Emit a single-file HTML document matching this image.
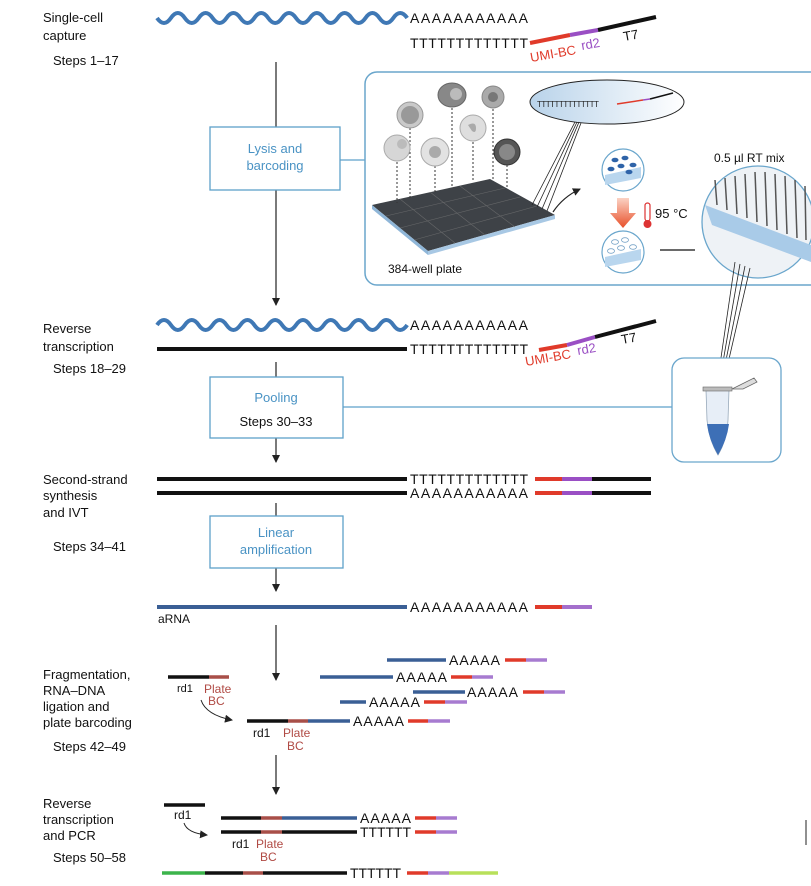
<!DOCTYPE html>
<html><head><meta charset="utf-8"><style>
html,body{margin:0;padding:0;background:#fff;}
svg{display:block;font-family:"Liberation Sans",sans-serif;}
</style></head><body>
<svg width="811" height="886" viewBox="0 0 811 886" xmlns="http://www.w3.org/2000/svg">
<defs>
<marker id="ar" markerWidth="8" markerHeight="8" refX="7" refY="4" orient="auto" markerUnits="userSpaceOnUse"><path d="M0,0 L8,4 L0,8 z" fill="#222"/></marker>
<linearGradient id="eg" x1="0" x2="1"><stop offset="0" stop-color="#b9d3ea"/><stop offset="1" stop-color="#ffffff"/></linearGradient>
<linearGradient id="og" x1="0" y1="0" x2="0" y2="1"><stop offset="0" stop-color="#fbd2c4"/><stop offset="1" stop-color="#e8502a"/></linearGradient>
</defs>

<g font-size="13" fill="#111">
<text x="43" y="22">Single-cell</text><text x="43" y="40">capture</text><text x="53" y="65">Steps 1–17</text>
<text x="43" y="333">Reverse</text><text x="43" y="351">transcription</text><text x="53" y="373">Steps 18–29</text>
<text x="43" y="484">Second-strand</text><text x="43" y="500">synthesis</text><text x="43" y="517">and IVT</text><text x="53" y="551">Steps 34–41</text>
<text x="43" y="679">Fragmentation,</text><text x="43" y="695">RNA–DNA</text><text x="43" y="711">ligation and</text><text x="43" y="727">plate barcoding</text><text x="53" y="751">Steps 42–49</text>
<text x="43" y="808">Reverse</text><text x="43" y="824">transcription</text><text x="43" y="840">and PCR</text><text x="53" y="862">Steps 50–58</text>
</g>

<path d="M157,18 q7,10 13.9,0 t13.9,0 t13.9,0 t13.9,0 t13.9,0 t13.9,0 t13.9,0 t13.9,0 t13.9,0 t13.9,0 t13.9,0 t13.9,0 t13.9,0 t13.9,0 t13.9,0 t13.9,0 t13.9,0 t13.9,0" fill="none" stroke="#3f78b5" stroke-width="4"/>
<g font-size="14" fill="#111">
<text x="410" y="23" textLength="118" lengthAdjust="spacing">AAAAAAAAAAA</text>
<text x="410" y="48" textLength="118" lengthAdjust="spacing">TTTTTTTTTTTTT</text>
</g>
<line x1="530" y1="43" x2="570" y2="35" stroke="#e03a2a" stroke-width="4"/>
<line x1="570" y1="35" x2="598" y2="30" stroke="#9a4fc4" stroke-width="4"/>
<line x1="598" y1="30" x2="656" y2="17" stroke="#111" stroke-width="4"/>
<text x="531" y="62" font-size="13" fill="#e03a2a" transform="rotate(-10 531 62)">UMI-BC</text>
<text x="582" y="50" font-size="13" fill="#9a4fc4" transform="rotate(-10 582 50)">rd2</text>
<text x="624" y="41" font-size="13" fill="#111" transform="rotate(-10 624 41)">T7</text>

<g stroke="#222" stroke-width="1.2">
<line x1="276" y1="62" x2="276" y2="127"/>
<line x1="276" y1="190" x2="276" y2="305" marker-end="url(#ar)"/>
<line x1="276" y1="362" x2="276" y2="377"/>
<line x1="276" y1="438" x2="276" y2="462" marker-end="url(#ar)"/>
<line x1="276" y1="503" x2="276" y2="516"/>
<line x1="276" y1="568" x2="276" y2="591" marker-end="url(#ar)"/>
<line x1="276" y1="625" x2="276" y2="680" marker-end="url(#ar)"/>
<line x1="276" y1="755" x2="276" y2="794" marker-end="url(#ar)"/>
</g>

<g fill="#fff" stroke="#5ea0c9" stroke-width="1.3">
<rect x="210" y="127" width="130" height="63"/>
<rect x="210" y="377" width="133" height="61"/>
<rect x="210" y="516" width="133" height="52"/>
</g>
<g font-size="13" text-anchor="middle" fill="#4a93c4">
<text x="275" y="153">Lysis and</text><text x="275" y="170">barcoding</text>
<text x="276" y="402">Pooling</text>
<text x="276" y="537">Linear</text><text x="276" y="554">amplification</text>
</g>
<text x="276" y="426" font-size="13" text-anchor="middle" fill="#111">Steps 30–33</text>
<line x1="340" y1="160" x2="365" y2="160" stroke="#5ea0c9" stroke-width="1.3"/>
<line x1="343" y1="407" x2="672" y2="407" stroke="#5ea0c9" stroke-width="1.3"/>

<rect x="365" y="72" width="460" height="213" rx="12" fill="#fff" stroke="#6aa6cc" stroke-width="1.5"/>
<polygon points="372,205 490,179 555,215 428,251" fill="#3e4247"/>
<polygon points="372,205 428,251 428,255 372,209" fill="#8fb6d8"/>
<polygon points="428,251 555,215 555,219 428,255" fill="#a8c8e4"/>
<g stroke="#777" stroke-width="0.6" opacity="0.7">
<line x1="386" y1="216" x2="505" y2="188"/><line x1="400" y1="228" x2="520" y2="197"/><line x1="414" y1="240" x2="537" y2="206"/>
<line x1="400" y1="199" x2="455" y2="243"/><line x1="430" y1="192" x2="485" y2="235"/><line x1="460" y1="186" x2="515" y2="227"/>
</g>
<g stroke="#333" stroke-width="1" stroke-dasharray="2,2">
<line x1="397" y1="162" x2="397" y2="203"/><line x1="410" y1="128" x2="410" y2="200"/><line x1="435" y1="166" x2="435" y2="192"/>
<line x1="452" y1="108" x2="452" y2="186"/><line x1="473" y1="142" x2="473" y2="182"/><line x1="493" y1="109" x2="493" y2="180"/><line x1="507" y1="165" x2="507" y2="188"/>
</g>
<circle cx="397" cy="148" r="13" fill="#d6d6d6" stroke="#aaa"/><circle cx="402" cy="144" r="5" fill="#bbb"/>
<circle cx="410" cy="115" r="13" fill="#c9c9c9" stroke="#999"/><circle cx="410" cy="115" r="9" fill="#999"/>
<circle cx="435" cy="152" r="14" fill="#e2e2e2" stroke="#aaa"/><circle cx="435" cy="152" r="6" fill="#aaa"/>
<ellipse cx="452" cy="95" rx="14" ry="12" fill="#888" stroke="#666"/><circle cx="456" cy="94" r="6" fill="#bbb"/>
<circle cx="473" cy="128" r="13" fill="#dedede" stroke="#aaa"/><path d="M468,125 q8,-4 8,3 q0,6 -4,3" fill="#aaa"/>
<circle cx="493" cy="97" r="11" fill="#aaa" stroke="#888"/><circle cx="493" cy="97" r="5" fill="#777"/>
<circle cx="507" cy="152" r="13" fill="#555" stroke="#333"/><circle cx="507" cy="152" r="8" fill="#888"/>
<ellipse cx="607" cy="102" rx="77" ry="22" fill="url(#eg)" stroke="#222" stroke-width="1"/>
<text x="537" y="107" font-size="8" fill="#222" letter-spacing="-0.5">TTTTTTTTTTTTTT</text>
<line x1="617" y1="104" x2="643" y2="100" stroke="#e03a2a" stroke-width="1.5"/>
<line x1="643" y1="100" x2="650" y2="99" stroke="#9a4fc4" stroke-width="1.5"/>
<line x1="650" y1="99" x2="673" y2="93" stroke="#111" stroke-width="1.5"/>
<g stroke="#222" stroke-width="0.8">
<line x1="575" y1="122" x2="532" y2="205"/><line x1="577" y1="122" x2="537" y2="207"/><line x1="579" y1="122" x2="542" y2="209"/><line x1="581" y1="123" x2="547" y2="211"/>
</g>
<path d="M553,212 q10,-15 27,-23" fill="none" stroke="#222" stroke-width="1.2" marker-end="url(#ar)"/>
<circle cx="623" cy="170" r="21" fill="#fff" stroke="#6aa6cc" stroke-width="1.2"/>
<path d="M605,175 L641,167 L641,178 L605,185 z" fill="#b9d6ee"/>
<g fill="#2e63a8"><ellipse cx="615" cy="160" rx="3.5" ry="2.3"/><ellipse cx="625" cy="158" rx="3.5" ry="2.3"/><ellipse cx="633" cy="165" rx="3.5" ry="2.3"/><ellipse cx="621" cy="166" rx="3.5" ry="2.3"/><ellipse cx="611" cy="169" rx="3.5" ry="2.3"/><ellipse cx="629" cy="172" rx="3.5" ry="2.3"/></g>
<circle cx="623" cy="252" r="21" fill="#fff" stroke="#6aa6cc" stroke-width="1.2"/>
<path d="M605,257 L641,249 L641,260 L605,267 z" fill="#b9d6ee"/>
<g fill="none" stroke="#7aa5c8" stroke-width="0.8"><ellipse cx="615" cy="242" rx="3.5" ry="2.3"/><ellipse cx="625" cy="240" rx="3.5" ry="2.3"/><ellipse cx="633" cy="247" rx="3.5" ry="2.3"/><ellipse cx="621" cy="248" rx="3.5" ry="2.3"/><ellipse cx="611" cy="251" rx="3.5" ry="2.3"/></g>
<path d="M617,198 h12 v15 h7 l-13,15 l-13,-15 h7 z" fill="url(#og)"/>
<rect x="645" y="203" width="5" height="18" rx="2.5" fill="#fff" stroke="#d33" stroke-width="1.2"/>
<circle cx="647.5" cy="224" r="4" fill="#d33"/>
<text x="655" y="218" font-size="13" fill="#111">95 °C</text>
<line x1="660" y1="250" x2="695" y2="250" stroke="#111" stroke-width="1.3"/>
<text x="388" y="273" font-size="12" fill="#111">384-well plate</text>
<text x="714" y="162" font-size="12" fill="#111">0.5 µl RT mix</text>
<circle cx="758" cy="222" r="56" fill="#eef2f6" stroke="#6aa6cc" stroke-width="1.3"/>
<path d="M705,205 L811,245 L811,262 L712,225 z" fill="#a9cbe8"/>
<g stroke="#555" stroke-width="1.5">
<line x1="715" y1="180" x2="717" y2="205"/><line x1="725" y1="178" x2="727" y2="210"/><line x1="735" y1="176" x2="737" y2="214"/><line x1="745" y1="174" x2="747" y2="218"/><line x1="755" y1="172" x2="757" y2="222"/><line x1="765" y1="172" x2="767" y2="226"/><line x1="775" y1="174" x2="777" y2="230"/><line x1="785" y1="176" x2="787" y2="234"/><line x1="795" y1="180" x2="797" y2="238"/><line x1="805" y1="186" x2="806" y2="240"/>
</g>
<g stroke="#222" stroke-width="0.8">
<line x1="735" y1="262" x2="717" y2="385"/><line x1="740" y1="264" x2="719" y2="385"/><line x1="745" y1="266" x2="721" y2="385"/><line x1="750" y1="268" x2="723" y2="385"/>
</g>
<rect x="672" y="358" width="109" height="104" rx="12" fill="#fff" stroke="#6aa6cc" stroke-width="1.3"/>
<path d="M706,390 L729,390 L728,420 Q727,440 718,455 Q709,440 707,420 z" fill="#e7eef7" stroke="#9ab" stroke-width="0.8"/>
<path d="M706,424 L729,424 Q727,440 718,455 Q709,440 707,424 z" fill="#3d6fb6"/>
<rect x="703" y="387" width="29" height="4" fill="#bbb" stroke="#666" stroke-width="0.6"/>
<path d="M732,389 l8,-4 l14,-7 l3,4 l-14,7 z" fill="#ddd" stroke="#666" stroke-width="0.8"/>

<path d="M157,325 q7,-10 13.9,0 t13.9,0 t13.9,0 t13.9,0 t13.9,0 t13.9,0 t13.9,0 t13.9,0 t13.9,0 t13.9,0 t13.9,0 t13.9,0 t13.9,0 t13.9,0 t13.9,0 t13.9,0 t13.9,0 t13.9,0" fill="none" stroke="#3f78b5" stroke-width="4"/>
<line x1="157" y1="349" x2="407" y2="349" stroke="#111" stroke-width="4"/>
<g font-size="14" fill="#111">
<text x="410" y="330" textLength="118" lengthAdjust="spacing">AAAAAAAAAAA</text>
<text x="410" y="354" textLength="118" lengthAdjust="spacing">TTTTTTTTTTTTT</text>
</g>
<line x1="539" y1="350" x2="567" y2="345" stroke="#e03a2a" stroke-width="4"/>
<line x1="567" y1="345" x2="595" y2="337" stroke="#9a4fc4" stroke-width="4"/>
<line x1="595" y1="337" x2="656" y2="321" stroke="#111" stroke-width="4"/>
<text x="526" y="366" font-size="13" fill="#e03a2a" transform="rotate(-10 526 366)">UMI-BC</text>
<text x="578" y="355" font-size="13" fill="#9a4fc4" transform="rotate(-10 578 355)">rd2</text>
<text x="622" y="344" font-size="13" fill="#111" transform="rotate(-10 622 344)">T7</text>

<line x1="157" y1="479" x2="407" y2="479" stroke="#111" stroke-width="4"/>
<line x1="157" y1="493" x2="407" y2="493" stroke="#111" stroke-width="4"/>
<g font-size="14" fill="#111">
<text x="410" y="484" textLength="118" lengthAdjust="spacing">TTTTTTTTTTTTT</text>
<text x="410" y="498" textLength="118" lengthAdjust="spacing">AAAAAAAAAAA</text>
</g>
<g stroke-width="4">
<line x1="535" y1="479" x2="562" y2="479" stroke="#e03a2a"/><line x1="562" y1="479" x2="592" y2="479" stroke="#9a4fc4"/><line x1="592" y1="479" x2="651" y2="479" stroke="#111"/>
<line x1="535" y1="493" x2="562" y2="493" stroke="#e03a2a"/><line x1="562" y1="493" x2="592" y2="493" stroke="#9a4fc4"/><line x1="592" y1="493" x2="651" y2="493" stroke="#111"/>
</g>

<line x1="157" y1="607" x2="407" y2="607" stroke="#3a5f95" stroke-width="4"/>
<text x="410" y="612" font-size="14" fill="#111" textLength="118" lengthAdjust="spacing">AAAAAAAAAAA</text>
<line x1="535" y1="607" x2="562" y2="607" stroke="#e03a2a" stroke-width="4"/>
<line x1="562" y1="607" x2="592" y2="607" stroke="#a46fcc" stroke-width="4"/>
<text x="158" y="623" font-size="12" fill="#111">aRNA</text>

<g stroke-width="3.5">
<line x1="387" y1="660" x2="446" y2="660" stroke="#3a5f95"/><line x1="505" y1="660" x2="526" y2="660" stroke="#e03a2a"/><line x1="526" y1="660" x2="547" y2="660" stroke="#a77bd0"/>
<line x1="320" y1="677" x2="393" y2="677" stroke="#3a5f95"/><line x1="451" y1="677" x2="472" y2="677" stroke="#e03a2a"/><line x1="472" y1="677" x2="493" y2="677" stroke="#a77bd0"/>
<line x1="413" y1="692" x2="465" y2="692" stroke="#3a5f95"/><line x1="523" y1="692" x2="544" y2="692" stroke="#e03a2a"/><line x1="544" y1="692" x2="565" y2="692" stroke="#a77bd0"/>
<line x1="340" y1="702" x2="366" y2="702" stroke="#3a5f95"/><line x1="424" y1="702" x2="445" y2="702" stroke="#e03a2a"/><line x1="445" y1="702" x2="467" y2="702" stroke="#a77bd0"/>
<line x1="247" y1="721" x2="288" y2="721" stroke="#111"/><line x1="288" y1="721" x2="308" y2="721" stroke="#a84f48"/><line x1="308" y1="721" x2="350" y2="721" stroke="#3a5f95"/><line x1="408" y1="721" x2="428" y2="721" stroke="#e03a2a"/><line x1="428" y1="721" x2="450" y2="721" stroke="#a77bd0"/>
<line x1="168" y1="677" x2="209" y2="677" stroke="#111"/><line x1="209" y1="677" x2="229" y2="677" stroke="#a84f48"/>
</g>
<g font-size="14" fill="#111">
<text x="449" y="665" textLength="51" lengthAdjust="spacing">AAAAA</text><text x="396" y="682" textLength="51" lengthAdjust="spacing">AAAAA</text><text x="467" y="697" textLength="51" lengthAdjust="spacing">AAAAA</text><text x="369" y="707" textLength="51" lengthAdjust="spacing">AAAAA</text><text x="353" y="726" textLength="51" lengthAdjust="spacing">AAAAA</text>
</g>
<text x="177" y="692" font-size="11" fill="#111">rd1</text>
<text x="204" y="693" font-size="12" fill="#b04a44">Plate</text><text x="208" y="705" font-size="12" fill="#b04a44">BC</text>
<path d="M201,700 q5,15 31,20" fill="none" stroke="#222" stroke-width="1" marker-end="url(#ar)"/>
<text x="253" y="737" font-size="12" fill="#111">rd1</text>
<text x="283" y="737" font-size="12" fill="#b04a44">Plate</text><text x="287" y="750" font-size="12" fill="#b04a44">BC</text>

<g stroke-width="3.5">
<line x1="164" y1="805" x2="205" y2="805" stroke="#111"/>
<line x1="221" y1="818" x2="261" y2="818" stroke="#111"/><line x1="261" y1="818" x2="282" y2="818" stroke="#a84f48"/><line x1="282" y1="818" x2="357" y2="818" stroke="#3a5f95"/><line x1="415" y1="818" x2="436" y2="818" stroke="#e03a2a"/><line x1="436" y1="818" x2="457" y2="818" stroke="#a77bd0"/>
<line x1="221" y1="832" x2="261" y2="832" stroke="#111"/><line x1="261" y1="832" x2="282" y2="832" stroke="#a84f48"/><line x1="282" y1="832" x2="357" y2="832" stroke="#111"/><line x1="415" y1="832" x2="436" y2="832" stroke="#e03a2a"/><line x1="436" y1="832" x2="457" y2="832" stroke="#a77bd0"/>
<line x1="162" y1="873" x2="205" y2="873" stroke="#3cb44b"/><line x1="205" y1="873" x2="243" y2="873" stroke="#111"/><line x1="243" y1="873" x2="263" y2="873" stroke="#a84f48"/><line x1="263" y1="873" x2="347" y2="873" stroke="#111"/><line x1="407" y1="873" x2="428" y2="873" stroke="#e03a2a"/><line x1="428" y1="873" x2="449" y2="873" stroke="#a77bd0"/><line x1="449" y1="873" x2="498" y2="873" stroke="#b8e05a"/>
</g>
<g font-size="14" fill="#111">
<text x="360" y="823" textLength="51" lengthAdjust="spacing">AAAAA</text><text x="360" y="837" textLength="51" lengthAdjust="spacing">TTTTTT</text><text x="350" y="878" textLength="51" lengthAdjust="spacing">TTTTTT</text>
</g>
<text x="174" y="819" font-size="12" fill="#111">rd1</text>
<path d="M184,823 q3,10 23,12" fill="none" stroke="#222" stroke-width="1" marker-end="url(#ar)"/>
<text x="232" y="848" font-size="12" fill="#111">rd1</text>
<text x="256" y="848" font-size="12" fill="#b04a44">Plate</text><text x="260" y="861" font-size="12" fill="#b04a44">BC</text>
<line x1="806" y1="820" x2="806" y2="845" stroke="#222" stroke-width="1"/>
</svg>
</body></html>
